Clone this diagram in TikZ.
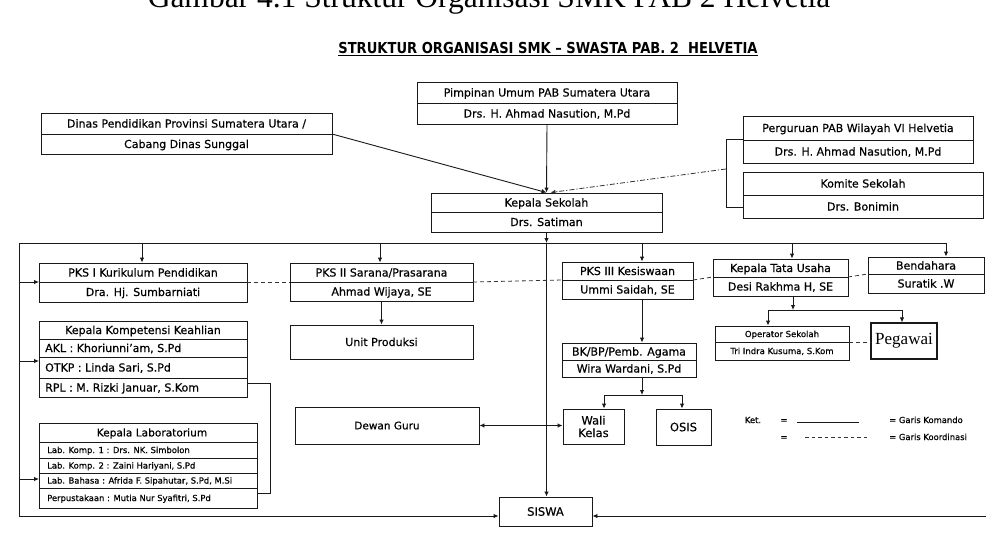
\documentclass[tikz,border=0pt]{standalone}
\usepackage{fontspec}
\setmainfont{DejaVu Sans}[UprightFeatures={FakeBold=0.45}]
\newfontfamily\serifcap{Liberation Serif}
\newfontfamily\titlefont{DejaVu Sans Bold}
\usetikzlibrary{arrows.meta,fit,calc}

\tikzset{
  box/.style={draw=black!90, line width=0.9pt, inner sep=0pt},
  divl/.style={draw=black!90, line width=0.75pt},
  tx/.style={font=\fontsize{11}{13}\selectfont, inner sep=0pt, text height=8pt, text depth=0pt, text=black},
  txd/.style={font=\fontsize{10.5}{12}\selectfont, inner sep=0pt, text height=7.7pt, text depth=0pt, text=black},
  txl/.style={font=\fontsize{11.5}{13}\selectfont, inner sep=0pt, text height=8.4pt, text depth=0pt, text=black},
  txh/.style={font=\fontsize{10.6}{12}\selectfont, inner sep=0pt, text height=7.8pt, text depth=0pt, text=black},
  txs/.style={font=\fontsize{8.4}{10}\selectfont, inner sep=0pt, text height=6.1pt, text depth=0pt, text=black},
  txo/.style={font=\fontsize{8.5}{10}\selectfont, inner sep=0pt, text height=6.2pt, text depth=0pt, text=black},
  txk/.style={font=\fontsize{8.4}{10}\selectfont, inner sep=0pt, text height=6.1pt, text depth=0pt, text=black},
  cmd/.style={draw=black!90, line width=0.9pt},
  arr/.style={cmd, -{Latex[length=5pt,width=4.5pt]}},
  darr/.style={cmd, {Latex[length=5pt,width=4.5pt]}-{Latex[length=5pt,width=4.5pt]}},
  crd/.style={draw=black!80, line width=0.8pt, dash pattern=on 4pt off 3pt},
  ddarr/.style={draw=black!80, line width=0.8pt, dash pattern=on 5pt off 2pt on 1.2pt off 2pt, -{Latex[length=5pt,width=4.5pt]}},
}

% name, x1, y1, x2, y2, ydiv, style, text1, text2
\newcommand\twobox[9]{%
  \node[box, fit={(#2,#3) (#4,#5)}] (#1) {};
  \coordinate (#1-dl) at (#2,#6);
  \coordinate (#1-dr) at (#4,#6);
  \draw[divl] (#1-dl) -- (#1-dr);
  \node[#7] (#1-a) at ({(#2+#4)/2},{(#3+#6)/2}) {#8};
  \node[#7] (#1-b) at ({(#2+#4)/2},{(#6+#5)/2}) {#9};
}
% name, x1, y1, x2, y2, style, text
\newcommand\onebox[7]{%
  \node[box, fit={(#2,#3) (#4,#5)}] (#1) {};
  \node[#6, align=center] (#1-a) at ({(#2+#4)/2},{(#3+#5)/2}) {#7};
}

\begin{document}
\begin{tikzpicture}[x=1pt,y=-1pt]
\clip (0,0) rectangle (986,544);
\fill[white] (0,0) rectangle (986,544);

% caption (cut off at top, as in the scan)
\node[font=\serifcap\fontsize{31.5}{33}\selectfont, anchor=base, inner sep=0pt] (cap) at (489,7.5) {Gambar 4.1 Struktur Organisasi SMK PAB 2 Helvetia};

% title
\node[anchor=base, inner sep=0pt] (title) at (548,53) {\scalebox{0.97}[1.12]{\titlefont\fontsize{13.5}{15}\selectfont\underline{STRUKTUR ORGANISASI SMK – SWASTA PAB. 2\ \ HELVETIA}}};

% top level
\twobox{pimp}{417}{82}{677}{124}{103}{tx}{Pimpinan Umum PAB Sumatera Utara}{Drs. H. Ahmad Nasution, M.Pd}
\twobox{dinas}{41}{113}{332}{154}{134}{tx}{Dinas Pendidikan Provinsi Sumatera Utara /}{Cabang Dinas Sunggal}
\twobox{kepala}{431}{193}{662}{232}{212}{tx}{Kepala Sekolah}{Drs. Satiman}
\twobox{perg}{743}{116}{973}{163}{140}{tx}{Perguruan PAB Wilayah VI Helvetia}{Drs. H. Ahmad Nasution, M.Pd}
\twobox{komite}{743}{172}{983}{218}{195}{tx}{Komite Sekolah}{Drs. Bonimin}

% row 2
\twobox{pks1}{39}{263}{247}{302}{282}{tx}{PKS I Kurikulum Pendidikan}{Dra. Hj. Sumbarniati}
\twobox{pks2}{290}{263}{473}{301}{282}{tx}{PKS II Sarana/Prasarana}{Ahmad Wijaya, SE}
\twobox{pks3}{562}{262}{693}{299}{280}{tx}{PKS III Kesiswaan}{Ummi Saidah, SE}
\twobox{ktu}{713}{259}{848}{296}{277}{tx}{Kepala Tata Usaha}{Desi Rakhma H, SE}
\twobox{bend}{868}{257}{984}{293}{274}{tx}{Bendahara}{Suratik .W}

% lower boxes
\onebox{unit}{290}{325}{473}{359}{tx}{Unit Produksi}
\onebox{dewan}{295}{407}{479}{444}{txd}{Dewan Guru}
\twobox{bk}{562}{343}{696}{377}{360}{tx}{BK/BP/Pemb. Agama}{Wira Wardani, S.Pd}
\node[box, fit={(563,409) (624,444)}] (wali) {};
\node[font=\fontsize{11.5}{12.5}\selectfont, align=center, inner sep=0pt, text=black] (wali-a) at (wali.center) {Wali\\Kelas};
\onebox{osis}{656}{409}{711}{445}{txl}{OSIS}
\twobox{oper}{715}{326}{849}{360}{342}{txo}{Operator Sekolah}{Tri Indra Kusuma, S.Kom}
\node[box, line width=1.3pt, fit={(871,323) (937,359)}] (peg) {};
\node[font=\serifcap\fontsize{17}{18}\selectfont, inner sep=0pt, text=black] (peg-a) at (peg.center) {Pegawai};
\onebox{siswa}{499}{497}{592}{526}{txl}{SISWA}

% Kepala Kompetensi Keahlian
\node[box, fit={(39,321) (247,397)}] (kk) {};
\draw[divl] (39,339) -- (247,339);
\draw[divl] (39,357) -- (247,357);
\draw[divl] (39,378) -- (247,378);
\node[tx] (kk-h) at (143,330) {Kepala Kompetensi Keahlian};
\node[tx, anchor=west] (kk-1) at (45,348) {AKL : Khoriunni’am, S.Pd};
\node[tx, anchor=west] (kk-2) at (45,367.5) {OTKP : Linda Sari, S.Pd};
\node[tx, anchor=west] (kk-3) at (45,387.5) {RPL : M. Rizki Januar, S.Kom};

% Kepala Laboratorium
\node[box, fit={(39,423) (257,508)}] (lab) {};
\draw[divl] (39,442) -- (257,442);
\draw[divl] (39,458) -- (257,458);
\draw[divl] (39,473) -- (257,473);
\draw[divl] (39,488) -- (257,488);
\node[txh] (lab-h) at (152,432.5) {Kepala Laboratorium};
\node[txs, anchor=west] (lab-1) at (47,450) {Lab. Komp. 1 : Drs. NK. Simbolon};
\node[txs, anchor=west] (lab-2) at (47,465.5) {Lab. Komp. 2 : Zaini Hariyani, S.Pd};
\node[txs, anchor=west] (lab-3) at (47,480.5) {Lab. Bahasa : Afrida F. Sipahutar, S.Pd, M.Si};
\node[txs, anchor=west] (lab-4) at (47,498) {Perpustakaan : Mutia Nur Syafitri, S.Pd};

% ---- connectors ----
% into Kepala Sekolah
\draw[arr] (pimp.south) -- (kepala.north);
\draw[arr] (dinas-dr) -- (kepala.north);
\coordinate (brt) at (726,139);
\coordinate (brm) at (726,169);
\coordinate (brb) at (726,207);
\draw[cmd] (perg.west |- brt) -- (brt) -- (brb) -- (komite.west |- brb);
\draw[ddarr] (brm) -- ($(kepala.north)+(4,0)$);

% bus
\coordinate (lv) at (19,243);
\coordinate (lvb) at (19,516);
\coordinate (b1) at (142,243);
\coordinate (b2) at (380,243);
\coordinate (b3) at (642,243);
\coordinate (b4) at (792,243);
\coordinate (b5) at (946,243);
\draw[cmd] (lv) -- (b5);
\draw[arr] (kepala.south) -- (kepala.south |- lv);
\draw[arr] (kepala.south |- lv) -- (kepala.south |- siswa.north);
\draw[arr] (b1) -- (b1 |- pks1.north);
\draw[arr] (b2) -- (b2 |- pks2.north);
\draw[arr] (b3) -- (b3 |- pks3.north);
\draw[arr] (b4) -- (b4 |- ktu.north);
\draw[arr] (b5) -- (b5 |- bend.north);

% left vertical and bottom
\draw[arr] (lv) -- (lvb) -- (siswa.west |- lvb);
\coordinate (rb) at (986,516);
\draw[arr] (rb) -- (siswa.east |- rb);
\draw[arr] (pks1-dl -| lv) -- (pks1-dl);
\coordinate (kkin) at (39,361);
\draw[arr] (kkin -| lv) -- (kkin);
\coordinate (labin) at (39,479);
\draw[arr] (labin -| lv) -- (labin);

% bracket kompetensi - laboratorium
\coordinate (kbr1) at (270,383);
\coordinate (kbr2) at (270,493);
\draw[cmd] (kbr1 -| kk.east) -- (kbr1) -- (kbr2) -- (kbr2 -| lab.east);

% coordination lines
\draw[crd] (pks1-dr) -- (pks2-dl);
\draw[crd] (pks2-dr) -- (pks3-dl);
\draw[crd] (pks3-dr) -- (ktu-dl);
\draw[crd] (ktu-dr) -- (bend-dl);
\draw[crd] (oper-dr) -- (oper-dr -| peg.west);

% PKS II -> Unit Produksi
\draw[arr] (pks2.south) -- (unit.north);
% PKS III -> BK -> Wali, OSIS
\draw[arr] (pks3.south -| b3) -- (bk.north -| b3);
\coordinate (j1) at (642,395);
\coordinate (jw) at (604,395);
\coordinate (jo) at (682,395);
\draw[arr] (bk.south -| j1) -- (j1);
\draw[cmd] (jw) -- (jo);
\draw[arr] (jw) -- (jw |- wali.north);
\draw[arr] (jo) -- (jo |- osis.north);
% KTU -> Operator, Pegawai
\coordinate (j2) at (793,310);
\coordinate (jop) at (768,310);
\coordinate (jpg) at (902,310);
\draw[arr] (ktu.south -| j2) -- (j2);
\draw[cmd] (jop) -- (jpg);
\draw[arr] (jop) -- (jop |- oper.north);
\draw[arr] (jpg) -- (jpg |- peg.north);
% Dewan Guru <-> Wali Kelas
\draw[darr] (dewan.east) -- (dewan.east -| wali.west);

% legend
\node[txk] (ket) at (753,420) {Ket.};
\node[txk] (eq1) at (784,420) {=};
\node[txk] (eq2) at (784,437) {=};
\coordinate (lg1a) at (797,422);
\coordinate (lg1b) at (859,422);
\coordinate (lg2a) at (805,437);
\coordinate (lg2b) at (870,437);
\draw[cmd] (lg1a) -- (lg1b);
\draw[crd, dash pattern=on 3.5pt off 3pt] (lg2a) -- (lg2b);
\node[txk, anchor=west] (lk1) at (889,420) {= Garis Komando};
\node[txk, anchor=west] (lk2) at (889,437) {= Garis Koordinasi};
\end{tikzpicture}
\end{document}
